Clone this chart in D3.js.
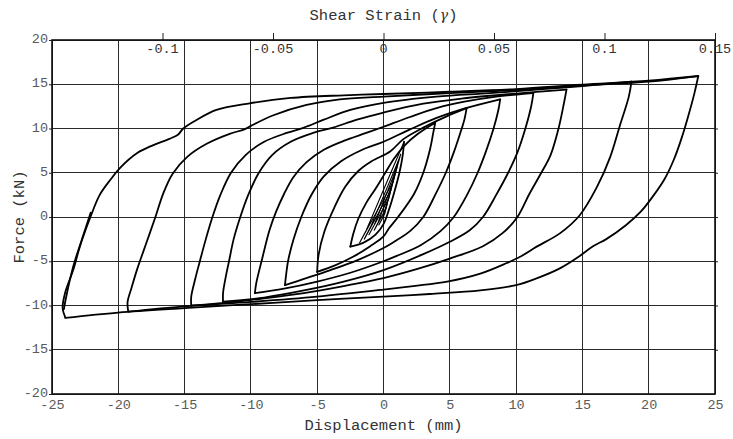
<!DOCTYPE html>
<html>
<head>
<meta charset="utf-8">
<script src="https://cdn.jsdelivr.net/npm/d3@7"></script>
<style>
  html, body { margin: 0; padding: 0; background: #fff; }
  svg { display: block; }
  text { font-family: "Liberation Mono", "Courier New", monospace; }
</style>
</head>
<body>
<div id="chart"></div>
<script>
// Axis ticks
const dispTicks = [-25, -20, -15, -10, -5, 0, 5, 10, 15, 20, 25];
const forceTicks = [-20, -15, -10, -5, 0, 5, 10, 15, 20];
const strainTicks = [-0.1, -0.05, 0, 0.05, 0.1, 0.15];

// Small elastic cycles near the origin: [displacement mm, force kN]
const elastic1 = [[0, 0], [0.3, 1.7], [0.1, 0.4], [-0.35, -0.9], [-0.1, -0.2], [0.35, 2.0]];
const elastic2 = [[0.35, 2.0], [0.55, 3.1], [0.2, 1.0], [-0.7, -1.5], [-0.4, -0.6], [0.55, 3.3]];
const elastic3 = [[0.55, 3.3], [0.8, 4.5], [0.4, 2.1], [-1.1, -2.0], [-0.7, -0.9], [0.75, 4.6]];
const elastic4 = [[0.75, 4.6], [1.05, 5.8], [0.55, 3.0], [-1.45, -2.5], [-1.0, -1.2], [1.0, 5.9]];
const elastic5 = [[1.0, 5.9], [1.3, 7.1], [0.7, 3.9], [-1.8, -2.9], [-1.3, -1.5], [1.55, 8.5]];

// Reloading branches, each from a negative peak towards the next positive peak
const load1 = [[-2.5, -3.35], [-2.3, -2.0], [-1.9, -0.2], [-1.3, 1.6], [-0.6, 3.2], [0.1, 4.9], [0.8, 6.6], [1.6, 8.1], [2.6, 9.4], [3.9, 10.65]];
const load2 = [[-5.0, -6.2], [-4.9, -4.3], [-4.45, -1.6], [-3.7, 1.1], [-2.9, 3.4], [-1.9, 5.2], [-0.9, 6.3], [0.5, 7.4], [1.5, 8.8], [3.0, 10.1], [4.8, 11.4], [6.27, 12.3]];
const load3 = [[-7.43, -7.7], [-7.35, -6.6], [-7.2, -5.0], [-6.8, -2.6], [-6.2, 0], [-5.4, 2.6], [-4.5, 4.6], [-3.2, 6.3], [-1.6, 7.6], [0, 8.5], [2.0, 9.9], [4.0, 11.2], [6.2, 12.3], [8.8, 13.3]];
const load4 = [[-9.7, -8.6], [-9.6, -7.5], [-9.4, -6.2], [-9.1, -4.4], [-8.6, -1.5], [-8.1, 0.6], [-7.5, 2.6], [-6.8, 4.5], [-5.8, 6.2], [-4.5, 7.6], [-3.0, 8.6], [-1.3, 9.5], [0, 10.2], [2.0, 11.3], [4.0, 12.3], [6.0, 13.0], [8.5, 13.6], [11.3, 14.0]];
const load5 = [[-12.1, -9.57], [-12.1, -8.6], [-11.9, -6.8], [-11.65, -5.0], [-11.3, -2.5], [-10.8, 0], [-10.2, 2.5], [-9.4, 5.0], [-8.4, 7.0], [-7.0, 8.5], [-5.3, 9.5], [-3.8, 10.1], [-2.0, 11.0], [0, 11.8], [3.0, 12.8], [6.0, 13.4], [10.0, 13.95], [13.8, 14.4]];
const load6 = [[-14.5, -10.0], [-14.5, -9.0], [-14.2, -7.0], [-13.85, -5.0], [-13.4, -2.5], [-12.9, 0], [-12.3, 2.5], [-11.5, 5.0], [-10.4, 7.0], [-9.0, 8.5], [-7.3, 9.5], [-6.0, 10.1], [-4.5, 11.0], [-2.5, 12.1], [0, 12.9], [4.0, 13.6], [8.0, 14.0], [12.0, 14.45], [15.0, 14.8], [18.7, 15.3]];
const load7 = [[-19.25, -10.7], [-19.3, -9.6], [-19.0, -8.0], [-18.6, -6.0], [-17.9, -3.0], [-17.2, 0], [-16.6, 2.7], [-15.9, 4.9], [-14.8, 6.8], [-13.3, 8.3], [-11.6, 9.4], [-10.5, 9.9], [-10.0, 10.3], [-8.3, 11.5], [-5.8, 12.66], [-3.3, 13.3], [0, 13.6], [5.0, 14.0], [10.0, 14.35], [15.0, 14.85], [20.0, 15.3], [23.74, 15.93]];
const load8 = [[-24.0, -11.35], [-24.2, -10.3], [-24.0, -8.5], [-23.4, -6.0], [-22.9, -3.35], [-22.1, 0.0], [-21.4, 2.5], [-20.6, 4.2], [-19.9, 5.5], [-18.6, 7.2], [-17.4, 8.1], [-16.2, 8.8], [-15.5, 9.3], [-15.1, 10.0], [-14.1, 10.96], [-12.6, 12.1], [-10.1, 12.85], [-7.0, 13.45], [-3.0, 13.75], [0, 13.9], [5.0, 14.15], [10.0, 14.45], [15.0, 14.95], [20.0, 15.4], [23.74, 15.93]];
const loadFinal = [[-24.1, -10.4], [-24.0, -9.55], [-23.4, -5.6], [-22.76, -2.6], [-22.08, 0.5]];

// Unloading branches, each from a positive peak down to its negative peak
const unload1 = [[1.55, 8.5], [1.45, 7.0], [1.2, 5.0], [0.85, 3.0], [0.45, 1.0], [0.0, -0.8], [-0.6, -2.0], [-1.5, -2.9], [-2.5, -3.35]];
const unload2 = [[3.9, 10.65], [3.75, 9.5], [3.5, 7.6], [3.0, 5.0], [2.3, 2.6], [1.1, 0], [0.4, -1.3], [0, -2.2], [-1.0, -3.3], [-2.3, -4.5], [-3.7, -5.5], [-5.0, -6.2]];
const unload3 = [[6.27, 12.3], [6.1, 11.0], [5.9, 10.0], [5.3, 7.3], [4.7, 5.0], [3.9, 2.5], [3.0, 0], [2.0, -1.6], [0.8, -2.8], [0, -3.5], [-2.0, -4.9], [-4.0, -6.0], [-6.0, -7.0], [-7.43, -7.7]];
const unload4 = [[8.8, 13.3], [8.65, 12.0], [8.3, 10.0], [7.7, 7.3], [7.1, 5.0], [6.3, 2.5], [5.3, 0], [4.3, -1.6], [2.8, -3.2], [1.0, -4.4], [0, -5.0], [-2.5, -6.3], [-5.0, -7.3], [-7.5, -8.1], [-9.7, -8.6]];
const unload5 = [[11.3, 14.0], [11.15, 12.6], [10.7, 10.0], [10.1, 7.3], [9.4, 5.0], [8.5, 2.5], [7.5, 0], [6.5, -1.5], [5.0, -2.8], [3.0, -4.2], [0, -6.0], [-3.0, -7.3], [-6.0, -8.3], [-9.0, -9.1], [-12.1, -9.57]];
const unload6 = [[13.8, 14.4], [13.6, 12.8], [13.2, 10.0], [12.6, 7.0], [11.9, 5.0], [11.0, 2.6], [10.1, 0], [9.0, -1.8], [7.5, -3.3], [5.0, -4.7], [2.5, -5.9], [0, -6.9], [-3.0, -7.8], [-6.0, -8.6], [-9.0, -9.2], [-12.0, -9.7], [-14.5, -10.0]];
const unload7 = [[18.7, 15.3], [18.5, 13.6], [17.8, 10.2], [17.1, 6.8], [16.1, 3.4], [14.8, 0.2], [13.3, -1.85], [11.55, -3.35], [10.3, -4.5], [9.3, -5.2], [7.3, -6.4], [4.8, -7.3], [2.25, -7.8], [0, -8.2], [-5.0, -9.0], [-10.0, -9.6], [-15.0, -10.1], [-19.25, -10.7]];
const unload8 = [[23.74, 15.93], [23.45, 14.0], [23.0, 11.5], [22.5, 9.0], [21.9, 6.5], [21.2, 4.3], [20.3, 2.3], [19.4, 0.6], [18.3, -0.9], [16.8, -2.5], [15.8, -3.3], [14.8, -4.4], [13.3, -5.8], [11.6, -6.9], [10.0, -7.7], [7.3, -8.3], [3.5, -8.7], [0, -9.0], [-5.0, -9.4], [-10.0, -9.85], [-15.0, -10.3], [-20.0, -10.8], [-24.0, -11.4]];

const elasticCycles = [elastic1, elastic2, elastic3, elastic4, elastic5];
const loadingBranches = [load1, load2, load3, load4, load5, load6, load7, load8, loadFinal];
const unloadingBranches = [unload1, unload2, unload3, unload4, unload5, unload6, unload7, unload8];

// Layout
const W = 733, H = 439;
const margin = { top: 40, right: 18, bottom: 45, left: 52 };
const iw = W - margin.left - margin.right;
const ih = H - margin.top - margin.bottom;

const svg = d3.select("#chart").append("svg").attr("width", W).attr("height", H);
const g = svg.append("g").attr("transform", `translate(${margin.left},${margin.top})`);

const x = d3.scaleLinear().domain([-25, 25]).range([0, iw]);
const y = d3.scaleLinear().domain([-20, 20]).range([ih, 0]);
const xs = d3.scaleLinear().domain([-0.15, 0.15]).range([0, iw]);

const fmt = v => String(v).replace("\u2212", "-");

// Grid
g.append("g").selectAll("line").data(dispTicks).join("line")
  .attr("x1", d => x(d)).attr("x2", d => x(d)).attr("y1", 0).attr("y2", ih)
  .attr("stroke", "#2a2a2a").attr("stroke-width", 1).attr("shape-rendering", "crispEdges");
g.append("g").selectAll("line").data(forceTicks).join("line")
  .attr("x1", 0).attr("x2", iw).attr("y1", d => y(d)).attr("y2", d => y(d))
  .attr("stroke", "#2a2a2a").attr("stroke-width", 1).attr("shape-rendering", "crispEdges");

// Axes
const axisStyle = sel => {
  sel.select(".domain").remove();
  sel.selectAll(".tick line").attr("stroke", "#222");
  sel.selectAll(".tick text").attr("fill", "#5a5a5a").style("font-size", "13.5px")
    .style("font-family", "'Liberation Mono', 'Courier New', monospace");
};
g.append("g").attr("transform", `translate(0,${ih})`)
  .call(d3.axisBottom(x).tickValues(dispTicks).tickSize(0).tickPadding(5).tickFormat(fmt))
  .call(axisStyle);
g.append("g")
  .call(d3.axisLeft(y).tickValues(forceTicks).tickSize(3).tickPadding(1).tickFormat(fmt))
  .call(axisStyle)
  .selectAll(".tick text").attr("dy", "0.2em");
g.append("g").attr("transform", `translate(${iw},0)`)
  .call(d3.axisRight(y).tickValues(forceTicks.slice(1, -1)).tickSize(3).tickFormat(""))
  .call(axisStyle);

// Shear strain axis: outward ticks, labels tucked inside the frame
g.append("g")
  .call(d3.axisTop(xs).tickValues(strainTicks).tickSize(7).tickFormat(""))
  .call(axisStyle);
g.append("g").selectAll("text").data(strainTicks).join("text")
  .attr("x", d => xs(d)).attr("y", 13)
  .attr("text-anchor", "middle")
  .attr("fill", "#333").style("font-size", "13.5px")
  .text(d => fmt(d));

// Frame
g.append("rect").attr("width", iw).attr("height", ih)
  .attr("fill", "none").attr("stroke", "#111").attr("stroke-width", 1.6);

// Hysteresis curves
const line = d3.line().x(d => x(d[0])).y(d => y(d[1]));
const smooth = d3.line().x(d => x(d[0])).y(d => y(d[1])).curve(d3.curveCatmullRom.alpha(0.5));
const curves = g.append("g").attr("fill", "none").attr("stroke", "#000")
  .attr("stroke-linejoin", "round").attr("stroke-linecap", "round");

curves.selectAll("path.elastic").data(elasticCycles).join("path")
  .attr("class", "elastic").attr("d", line).attr("stroke-width", 1.1);
curves.selectAll("path.load").data(loadingBranches).join("path")
  .attr("class", "load").attr("d", smooth).attr("stroke-width", 1.8);
curves.selectAll("path.unload").data(unloadingBranches).join("path")
  .attr("class", "unload").attr("d", smooth).attr("stroke-width", 1.8);

// Axis titles
svg.append("text").attr("x", margin.left + iw / 2).attr("y", 20)
  .attr("text-anchor", "middle").attr("fill", "#333").style("font-size", "15.5px")
  .call(t => {
    t.append("tspan").text("Shear Strain (");
    t.append("tspan").attr("font-style", "italic").style("font-family", "'DejaVu Serif', serif").style("font-size", "14px").text("γ");
    t.append("tspan").text(")");
  });
svg.append("text").attr("x", margin.left + iw / 2).attr("y", 430)
  .attr("text-anchor", "middle").attr("fill", "#333").style("font-size", "15.5px")
  .text("Displacement (mm)");
svg.append("text")
  .attr("transform", `translate(24,${margin.top + ih / 2}) rotate(-90)`)
  .attr("text-anchor", "middle").attr("fill", "#333").style("font-size", "15.5px")
  .text("Force (kN)");
</script>
</body>
</html>
